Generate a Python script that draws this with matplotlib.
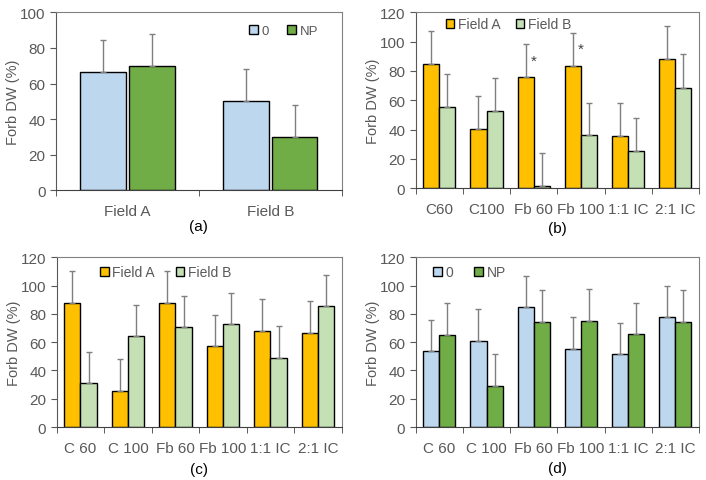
import numpy as np
import matplotlib
matplotlib.use('Agg')
import matplotlib.pyplot as plt
from matplotlib.ticker import FixedLocator, NullFormatter

plt.rcParams['font.family'] = ['Liberation Sans', 'DejaVu Sans']

# panel (a)
fields      = ['Field A', 'Field B']
a_zero      = [66.5, 50.0]
a_zero_err  = [18.1, 18.2]
a_np        = [69.7, 30.0]
a_np_err    = [18.3, 17.9]

# panel (b)
b_cats      = ['C60', 'C100', 'Fb 60', 'Fb 100', '1:1 IC', '2:1 IC']
b_fa        = [84.8, 40.5, 75.9, 83.2, 35.9, 88.0]
b_fa_err    = [22.5, 22.2, 22.3, 22.7, 22.3, 22.5]
b_fb        = [55.5, 52.7, 1.6, 36.1, 25.2, 68.6]
b_fb_err    = [22.2, 22.3, 22.3, 22.3, 22.5, 22.8]
b_sig       = [False, False, True, True, False, False]

# panel (c)
c_cats      = ['C 60', 'C 100', 'Fb 60', 'Fb 100', '1:1 IC', '2:1 IC']
c_fa        = [87.5, 25.7, 87.9, 57.0, 67.9, 66.5]
c_fa_err    = [22.6, 22.2, 22.2, 22.4, 22.4, 22.4]
c_fb        = [30.9, 64.1, 70.7, 72.8, 48.8, 85.3]
c_fb_err    = [22.4, 22.2, 22.2, 22.2, 22.4, 22.4]

# panel (d)
d_cats      = ['C 60', 'C 100', 'Fb 60', 'Fb 100', '1:1 IC', '2:1 IC']
d_zero      = [53.5, 60.8, 84.6, 55.2, 51.6, 77.6]
d_zero_err  = [22.2, 22.4, 22.2, 22.4, 22.2, 21.9]
d_np        = [65.3, 29.0, 74.3, 75.0, 65.5, 74.3]
d_np_err    = [22.2, 22.6, 22.4, 22.4, 22.0, 22.4]

LBLUE  = '#bdd7ee'
GREEN  = '#70ad47'
ORANGE = '#ffc000'
LGREEN = '#c5e0b4'
TXT    = '#595959'

W, H = 706, 481
fig = plt.figure(figsize=(W/100, H/100), dpi=100)

def add_ax(l, r, t, b):
  return fig.add_axes([l/W, 1 - b/H, (r-l)/W, (b-t)/H])

def panel(ax, cats, s1, e1, s2, e2, c1, c2, names, width, gap, ymax, step, tag, tag_y):
  n = len(cats)
  x = np.arange(n)
  off = (width + gap) / 2
  ekw = dict(ecolor='#7f7f7f', elinewidth=1, capsize=2, capthick=1)
  ax.bar(x - off, s1, width, color=c1, edgecolor='black', linewidth=1,
         yerr=[np.zeros(n), e1], error_kw=ekw, label=names[0], zorder=2)
  ax.bar(x + off, s2, width, color=c2, edgecolor='black', linewidth=1,
         yerr=[np.zeros(n), e2], error_kw=ekw, label=names[1], zorder=2)
  ax.set_xlim(-0.5, n - 0.5)
  ax.set_ylim(0, ymax)
  ax.set_yticks(np.arange(0, ymax + 1, step))
  ax.set_xticks(x)
  ax.set_xticklabels(cats)
  ax.xaxis.set_minor_locator(FixedLocator(np.arange(-0.5, n, 1)))
  ax.xaxis.set_minor_formatter(NullFormatter())
  ax.tick_params(axis='x', which='major', length=0, pad=10, labelsize=11, colors=TXT)
  ax.tick_params(axis='x', which='minor', length=4, color='#404040')
  ax.tick_params(axis='y', length=4, labelsize=11, colors=TXT, color='#595959')
  for s in ('top', 'right'):
    ax.spines[s].set_color('#808080')
  ax.spines['left'].set_color('#595959')
  ax.spines['bottom'].set_color('#404040')
  ax.set_ylabel('Forb DW (%)', fontsize=10.5, color=TXT)
  pos = ax.get_position()
  ax.yaxis.set_label_coords(-36 / (pos.width * W), 0.5)
  fig.text(pos.x0 + pos.width / 2, 1 - tag_y / H, tag, ha='center', va='center',
           fontsize=11, color='black')
  return ax

def legend(ax, x0, y0, fs, hl, cs):
  ax.legend(loc='center left', bbox_to_anchor=(x0, y0), ncol=2, frameon=False,
            handlelength=hl, handleheight=hl, handletextpad=0.25, columnspacing=cs,
            fontsize=fs, borderaxespad=0, borderpad=0, labelcolor=TXT)

axa = panel(add_ax(56, 341.7, 13.3, 191.3), fields, a_zero, a_zero_err, a_np, a_np_err,
            LBLUE, GREEN, ['0', 'NP'], 0.32, 0.02, 100, 20, '(a)', 227)
legend(axa, 0.675, 0.895, 9.5, 0.7, 1.4)

axb = panel(add_ax(415.7, 699, 13.3, 189.3), b_cats, b_fa, b_fa_err, b_fb, b_fb_err,
            ORANGE, LGREEN, ['Field A', 'Field B'], 0.34, 0.0, 120, 20, '(b)', 229)
legend(axb, 0.106, 0.933, 10, 0.62, 1.1)
for i, s in enumerate(b_sig):
  if s:
    top = b_fa[i] + b_fa_err[i]
    axb.text(i, top - 11, '*', ha='center', va='center', fontsize=11, color='#404040')

axc = panel(add_ax(56.7, 341.7, 258.3, 428), c_cats, c_fa, c_fa_err, c_fb, c_fb_err,
            ORANGE, LGREEN, ['Field A', 'Field B'], 0.34, 0.0, 120, 20, '(c)', 470)
legend(axc, 0.152, 0.912, 10, 0.62, 1.5)

axd = panel(add_ax(415.7, 699, 258.3, 428), d_cats, d_zero, d_zero_err, d_np, d_np_err,
            LBLUE, GREEN, ['0', 'NP'], 0.34, 0.0, 120, 20, '(d)', 469)
legend(axd, 0.061, 0.912, 10, 0.65, 1.5)

fig.savefig('out.png', dpi=100)
